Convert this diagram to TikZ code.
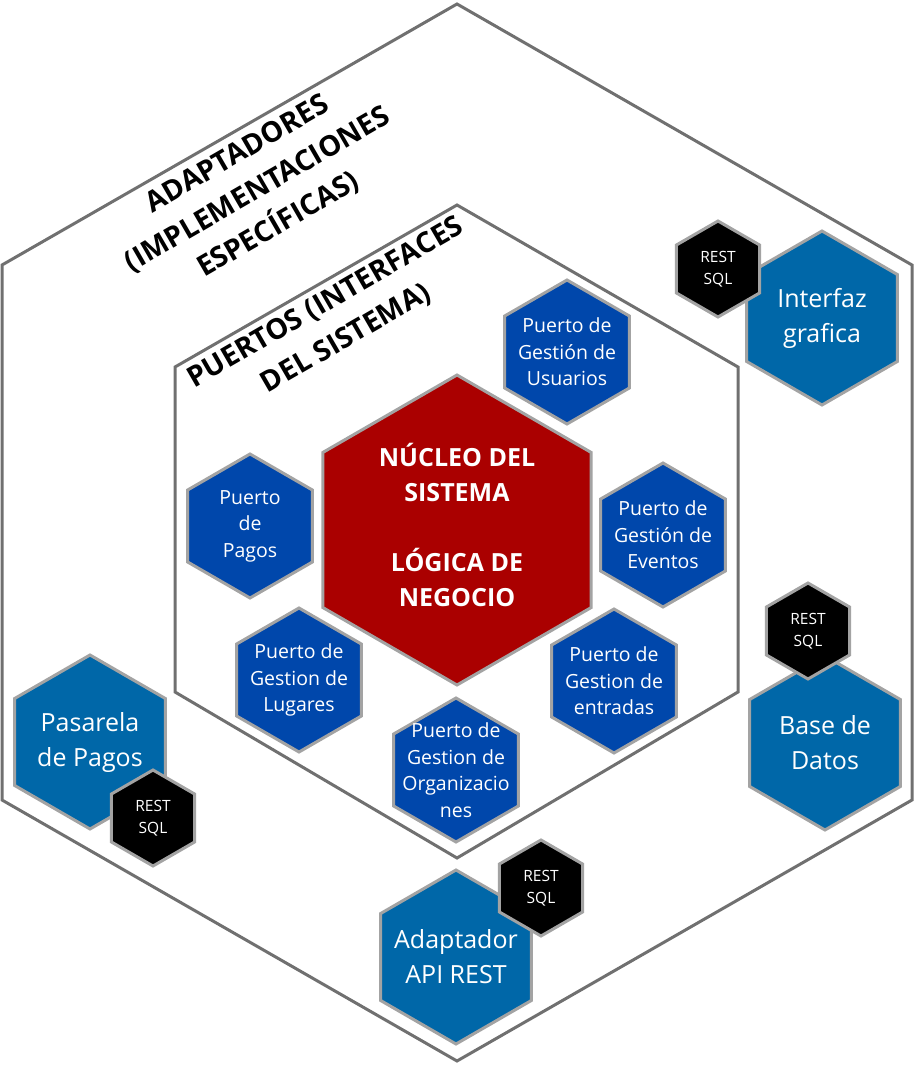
\documentclass[tikz,border=0pt]{standalone}
\usepackage{fontspec}
\setmainfont{Open Sans}
\usetikzlibrary{shapes.geometric}
\definecolor{marco}{HTML}{707070}
\definecolor{bordehex}{HTML}{A3A3A3}
\definecolor{rojonucleo}{HTML}{AA0000}
\definecolor{azulpuerto}{HTML}{0047AB}
\definecolor{azuladapt}{HTML}{0067A8}

\begin{document}
\begin{tikzpicture}[x=1pt,y=-1pt,
  hexa/.style={regular polygon,regular polygon sides=6,shape border rotate=30,draw=bordehex,line width=3pt,inner sep=0pt,outer sep=0pt},
  puerto/.style={hexa,fill=azulpuerto,minimum size=144pt},
  adaptador/.style={hexa,fill=azuladapt,minimum size=174pt},
  conector/.style={hexa,fill=black,minimum size=96pt},
  nucleo/.style={hexa,fill=rojonucleo,minimum size=310pt},
  txtpuerto/.style={align=center,text=white,font=\fontsize{19.5}{26.5}\selectfont},
  txtadapt/.style={align=center,text=white,font=\fontsize{25}{35}\selectfont},
  txtconector/.style={align=center,text=white,font=\fontsize{15.5}{22}\selectfont},
  capa/.style={align=center,rotate=30,font=\fontsize{28.5}{41}\selectfont\bfseries}]
\useasboundingbox (0,0) rectangle (915,1065);

%marcos
\draw[marco,line width=3pt] (457,4) -- (912,265) -- (912,800) -- (457,1061) -- (2,800) -- (2,265) -- cycle;
\draw[marco,line width=3pt] (457,205) -- (738,367) -- (738,692) -- (457,858) -- (175,692) -- (175,367) -- cycle;

\node[capa] (adaptadores) at (258,190) {ADAPTADORES\\(IMPLEMENTACIONES\\ESPECÍFICAS)};
\node[capa] (puertos) at (336,321) {PUERTOS (INTERFACES\\DEL SISTEMA)};

%puertos
\foreach \nombre/\pos/\texto in {usuarios/{567,352}/{Puerto de\\Gestión de\\Usuarios},
  pagos/{250,526}/{Puerto\\de\\Pagos},
  eventos/{663,535}/{Puerto de\\Gestión de\\Eventos},
  entradas/{614,681}/{Puerto de\\Gestion de\\entradas},
  lugares/{299,680}/{Puerto de\\Gestion de\\Lugares},
  organizaciones/{456,770}/{Puerto de\\Gestion de\\Organizacio\\nes}}
{
\node[puerto] (\nombre) at (\pos) {};
\node[txtpuerto] (\nombre-txt) at (\nombre) {\texto};
}

%nucleo
\node[nucleo] (nucleo) at (457,530) {};
\node[align=center,text=white,font=\fontsize{25}{35}\selectfont\bfseries] (nucleo-txt) at ([yshift=5pt]nucleo.center)
  {NÚCLEO DEL\\SISTEMA\\[35pt]LÓGICA DE\\NEGOCIO};

%adaptadores
\foreach \nombre/\pos/\texto in {interfaz/{822,318}/{Interfaz\\grafica},
  basedatos/{825,743}/{Base de\\Datos},
  pasarela/{90,742}/{Pasarela\\de Pagos},
  api/{456,957}/{Adaptador\\API REST}}
{
\node[adaptador] (\nombre) at (\pos) {};
\node[txtadapt] (\nombre-txt) at (\nombre) {\texto};
}

%conectores REST/SQL
\foreach \nombre/\pos in {restint/{718,269},restbd/{808,631},restpas/{153,818},restapi/{541,888}}
{
\node[conector] (\nombre) at (\pos) {};
\node[txtconector] (\nombre-txt) at (\nombre) {REST\\SQL};
}
\end{tikzpicture}
\end{document}
